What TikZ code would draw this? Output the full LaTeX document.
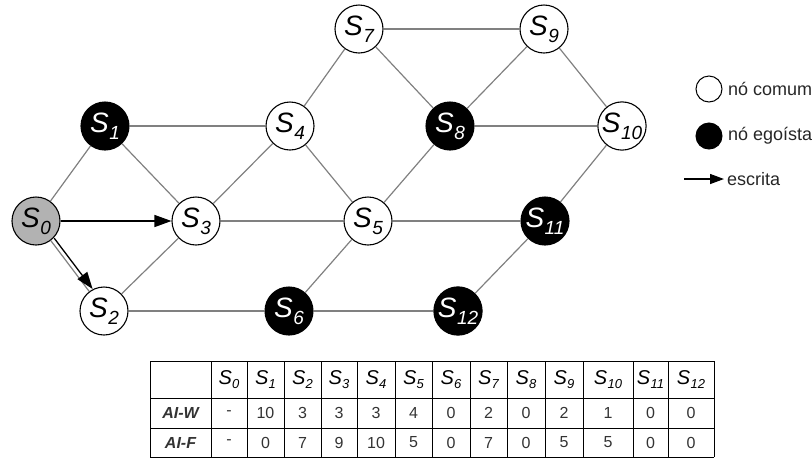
\documentclass[tikz,border=0pt]{standalone}
\usepackage{fontspec}
\setmainfont{Liberation Sans}
\usetikzlibrary{arrows.meta}
\newcommand{\nlab}[1]{{\fontsize{28}{28}\selectfont\itshape S}\kern0.5pt\raisebox{-7pt}{\fontsize{19}{19}\selectfont\itshape #1}}
\newcommand{\tlab}[1]{{\fontsize{20}{20}\selectfont\itshape S}\kern0.3pt\raisebox{-4.5pt}{\fontsize{13}{13}\selectfont\itshape #1}}
\definecolor{edgegray}{HTML}{808080}
\definecolor{srcgray}{HTML}{B2B2B2}
\definecolor{valgray}{HTML}{333333}
\tikzset{
  nd/.style={circle,draw=black,line width=1.1pt,minimum size=48pt,inner sep=0pt,fill=white,text=black},
  selfish/.style={nd,fill=black,text=white},
  source/.style={nd,fill=srcgray},
  edge/.style={draw=edgegray,line width=1.2pt},
  arr/.style={draw=black,line width=1.3pt,-{Triangle[length=17pt,width=12pt]}},
  tline/.style={draw=black,line width=0.9pt},
  hd/.style={inner sep=0pt,anchor=center},
  val/.style={inner sep=0pt,anchor=center,text=valgray,font=\fontsize{16}{16}\selectfont},
  rowlab/.style={inner sep=0pt,anchor=center,font=\fontsize{16}{16}\selectfont\bfseries\itshape,text=valgray},
  legtxt/.style={inner sep=0pt,anchor=west,font=\fontsize{18}{18}\selectfont,text=black!85},
}
\begin{document}
\begin{tikzpicture}[x=1pt,y=-1pt]
\useasboundingbox (0,0) rectangle (812,459);
% nodes
\node[source]  (s0)  at (36,221)  {\nlab{0}};
\node[selfish] (s1)  at (105,126) {\nlab{1}};
\node[nd]      (s2)  at (104,311) {\nlab{2}};
\node[nd]      (s3)  at (196,221) {\nlab{3}};
\node[nd]      (s4)  at (290,126) {\nlab{4}};
\node[nd]      (s5)  at (368,221) {\nlab{5}};
\node[selfish] (s6)  at (289,311) {\nlab{6}};
\node[nd]      (s7)  at (359,29)  {\nlab{7}};
\node[selfish] (s8)  at (450,126) {\nlab{8}};
\node[nd]      (s9)  at (544,29)  {\nlab{9}};
\node[nd]      (s10) at (622,126) {\nlab{10}};
\node[selfish] (s11) at (545,221) {\nlab{11}};
\node[selfish] (s12) at (458,311) {\nlab{12}};
% edges
\draw[edge] (s0) -- (s1);
\draw[edge] (s0) -- (s2);
\draw[edge] (s1) -- (s4);
\draw[edge] (s1) -- (s3);
\draw[edge] (s2) -- (s3);
\draw[edge] (s2) -- (s6);
\draw[edge] (s3) -- (s4);
\draw[edge] (s3) -- (s5);
\draw[edge] (s4) -- (s7);
\draw[edge] (s4) -- (s5);
\draw[edge] (s5) -- (s8);
\draw[edge] (s5) -- (s6);
\draw[edge] (s5) -- (s11);
\draw[edge] (s6) -- (s12);
\draw[edge] (s7) -- (s9);
\draw[edge] (s7) -- (s8);
\draw[edge] (s8) -- (s9);
\draw[edge] (s8) -- (s10);
\draw[edge] (s9) -- (s10);
\draw[edge] (s10) -- (s11);
\draw[edge] (s11) -- (s12);
% write arrows
\draw[arr] (s0) -- (s3);
\draw[arr,transform canvas={shift={(3.4pt,2.4pt)}}] (s0) -- (s2);
% legend
\node[circle,draw=black,line width=1pt,minimum size=26pt,inner sep=0pt] (lc) at (709,89) {};
\node[legtxt] (lct) at (728,89) {nó comum};
\node[circle,draw=black,fill=black,line width=1pt,minimum size=26pt,inner sep=0pt] (le) at (709,136) {};
\node[legtxt] (let) at (728,136) {nó egoísta};
\coordinate (la) at (684,179);
\node[legtxt,inner xsep=3pt] (lat) at (724,179) {escrita};
\draw[arr,-{Triangle[length=14pt,width=10pt]}] (la) -- (lat.west);
% table
\foreach \x in {150,211,247,284,321,357,395,432,470,507,545,583,633,668,714}
  \draw[tline] (\x,361) -- (\x,457);
\foreach \y in {361,398,428,457}
  \draw[tline] (150,\y) -- (714,\y);
\node[hd] (h0) at (229,379.5) {\tlab{0}};
\node[hd] (h1) at (265.5,379.5) {\tlab{1}};
\node[hd] (h2) at (302.5,379.5) {\tlab{2}};
\node[hd] (h3) at (339,379.5) {\tlab{3}};
\node[hd] (h4) at (376,379.5) {\tlab{4}};
\node[hd] (h5) at (413.5,379.5) {\tlab{5}};
\node[hd] (h6) at (451,379.5) {\tlab{6}};
\node[hd] (h7) at (488.5,379.5) {\tlab{7}};
\node[hd] (h8) at (526,379.5) {\tlab{8}};
\node[hd] (h9) at (564,379.5) {\tlab{9}};
\node[hd] (h10) at (608,379.5) {\tlab{10}};
\node[hd] (h11) at (650.5,379.5) {\tlab{11}};
\node[hd] (h12) at (691,379.5) {\tlab{12}};
\node[rowlab] (rw) at (180.5,413) {AI-W};
\node[rowlab] (rf) at (180.5,442.5) {AI-F};
\foreach \v/\x [count=\i] in {-/229,10/265.5,3/302.5,3/339,3/376,4/413.5,0/451,2/488.5,0/526,2/564,1/608,0/650.5,0/691}
  \node[val] (w\i) at (\x,413) {\v};
\foreach \v/\x [count=\i] in {-/229,0/265.5,7/302.5,9/339,10/376,5/413.5,0/451,7/488.5,0/526,5/564,5/608,0/650.5,0/691}
  \node[val] (f\i) at (\x,442.5) {\v};
\end{tikzpicture}
\end{document}
